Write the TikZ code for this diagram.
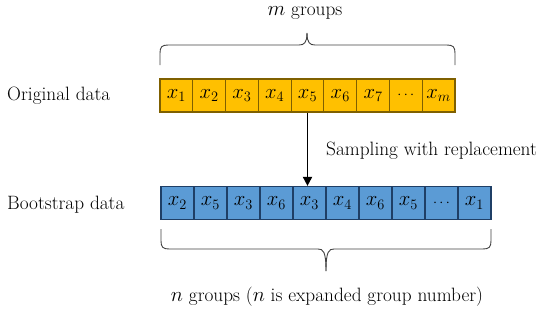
\documentclass[tikz,border=0pt]{standalone}
\usetikzlibrary{arrows.meta}
\definecolor{ycell}{HTML}{FFC000}
\definecolor{yedge}{HTML}{7F6000}
\definecolor{bcell}{HTML}{5B9BD5}
\definecolor{bedge}{HTML}{1F3F66}
\newcommand{\celldots}{{\fontsize{15}{18}\selectfont$\cdots$}}
\begin{document}
\begin{tikzpicture}[x=1pt,y=-1pt,
  cell/.style={draw, line width=1.2pt, minimum width=32.8pt, minimum height=33pt, inner sep=0pt, font=\fontsize{22}{26}\selectfont},
  ocell/.style={cell, fill=ycell, draw=yedge},
  bscell/.style={cell, fill=bcell, draw=bedge, minimum width=33pt},
  lbl/.style={font=\fontsize{19.3}{23}\selectfont, inner sep=0pt},
  bracestyle/.style={line width=0.9pt, draw=black!75}]
\useasboundingbox (0,0) rectangle (550,314);
% original row
\foreach \t [count=\i] in {$x_1$,$x_2$,$x_3$,$x_4$,$x_5$,$x_6$,$x_7$,\celldots,$x_m$}
  \node[ocell] (t\i) at ({160+32.78*(\i-0.5)},95.5) {\t};
% bootstrap row
\foreach \t [count=\i] in {$x_2$,$x_5$,$x_3$,$x_6$,$x_3$,$x_4$,$x_6$,$x_5$,\celldots,$x_1$}
  \node[bscell] (b\i) at ({161+33*(\i-0.5)},203) {\t};
% labels
\node[lbl, anchor=west] (orig) at (7,96) {Original data};
\node[lbl, anchor=west] (boot) at (7,205) {Bootstrap data};
\node[lbl, anchor=west] (samp) at (326,151) {Sampling with replacement};
\node[lbl] (mg) at (305,13) {$m$ groups};
\node[lbl] (ng) at (327,297) {$n$ groups ($n$ is expanded group number)};
% arrow
\draw[line width=1.8pt, -{Triangle[length=9pt,width=9pt]}] (t5.south) -- (t5.south |- b5.north);
% top brace
\draw[bracestyle] (160,65) -- (160,53) .. controls (160,47) and (162,45) .. (168,45)
  -- (299,45) .. controls (304,45) and (307,43) .. (307,33);
\draw[bracestyle] (455,65) -- (455,53) .. controls (455,47) and (453,45) .. (447,45)
  -- (315,45) .. controls (310,45) and (307,43) .. (307,33);
% bottom brace
\draw[bracestyle] (161,229) -- (161,241) .. controls (161,247) and (163,249) .. (169,249)
  -- (318,249) .. controls (323,249) and (326,251) .. (326,271);
\draw[bracestyle] (491,229) -- (491,241) .. controls (491,247) and (489,249) .. (483,249)
  -- (334,249) .. controls (329,249) and (326,251) .. (326,271);
\end{tikzpicture}
\end{document}
